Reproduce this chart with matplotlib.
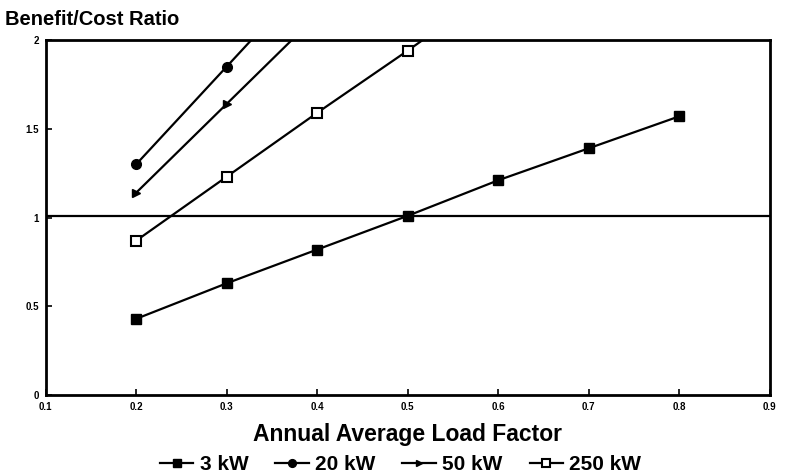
import matplotlib
matplotlib.use('Agg')
import matplotlib.pyplot as plt

# Benefit/cost ratio vs annual average load factor, by system size
load_factor = [0.2, 0.3, 0.4, 0.5, 0.6, 0.7, 0.8]
ratio_3kw = [0.43, 0.63, 0.82, 1.01, 1.21, 1.39, 1.57]
ratio_20kw = [1.30, 1.85, 2.40]
ratio_50kw = [1.14, 1.64, 2.14]
ratio_250kw = [0.87, 1.23, 1.59, 1.94, 2.30]

x_ticks = [0.1, 0.2, 0.3, 0.4, 0.5, 0.6, 0.7, 0.8, 0.9]
y_ticks = [0, 0.5, 1, 1.5, 2]
y_tick_labels = ['0', '0.5', '1', '1.5', '2']

plt.rcParams['font.family'] = ['Liberation Sans', 'DejaVu Sans']
plt.rcParams['font.weight'] = 'bold'

fig = plt.figure(figsize=(7.88, 4.75), dpi=100)
ax = fig.add_axes([0.058, 0.168, 0.919, 0.748])

ax.plot(load_factor, ratio_3kw, color='black', lw=1.6, marker='s', ms=7,
        mfc='black', mec='black', label='3 kW')
ax.plot(load_factor[:len(ratio_20kw)], ratio_20kw, color='black', lw=1.6, marker='o', ms=7,
        mfc='black', mec='black', label='20 kW')
ax.plot(load_factor[:len(ratio_50kw)], ratio_50kw, color='black', lw=1.6, marker='>', ms=6,
        mfc='black', mec='black', label='50 kW')
ax.plot(load_factor[:len(ratio_250kw)], ratio_250kw, color='black', lw=1.6, marker='s', ms=7,
        mfc='white', mec='black', mew=1.5, label='250 kW')

ax.axhline(1.01, color='black', lw=1.6)

ax.set_xlim(0.1, 0.9)
ax.set_ylim(0, 2)
ax.set_xticks(x_ticks)
ax.set_xticklabels([str(t) for t in x_ticks])
ax.set_yticks(y_ticks)
ax.set_yticklabels(y_tick_labels)
ax.tick_params(direction='in', length=4, width=1.2, labelsize=7, pad=5)
for s in ax.spines.values():
    s.set_linewidth(2)

ax.set_xlabel('Annual Average Load Factor', fontsize=16.5, fontweight='bold', labelpad=8)
fig.text(0.006, 0.958, 'Benefit/Cost Ratio', fontsize=14.5, fontweight='bold', va='center')

ax.legend(loc='upper center', bbox_to_anchor=(0.49, -0.14), ncol=4, frameon=False,
          fontsize=15, handlelength=1.6, handletextpad=0.3, columnspacing=1.3,
          markerscale=0.8, borderpad=0)

fig.savefig('out.png', dpi=100)
